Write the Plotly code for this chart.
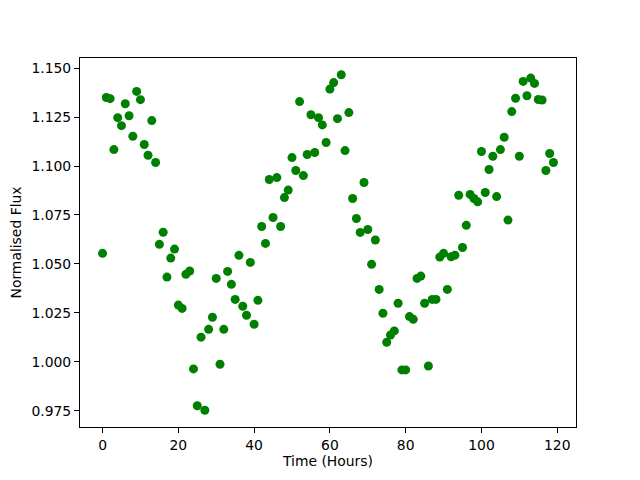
import plotly.graph_objects as go

hours = list(range(120))
flux = [
    1.0554, 1.1350, 1.1344, 1.1084, 1.1247, 1.1206, 1.1318, 1.1257, 1.1152, 1.1381,
    1.1339, 1.1110, 1.1055, 1.1232, 1.1018, 1.0600, 1.0662, 1.0433, 1.0530, 1.0576,
    1.0290, 1.0273, 1.0447, 1.0464, 0.9964, 0.9776, 1.0126, 0.9753, 1.0166, 1.0228,
    1.0426, 0.9988, 1.0166, 1.0462, 1.0396, 1.0319, 1.0544, 1.0284, 1.0238, 1.0508,
    1.0192, 1.0314, 1.0691, 1.0605, 1.0931, 1.0737, 1.0941, 1.0691, 1.0839, 1.0877,
    1.1043, 1.0977, 1.1329, 1.0951, 1.1059, 1.1262, 1.1069, 1.1247, 1.1210, 1.1120,
    1.1393, 1.1426, 1.1242, 1.1466, 1.1079, 1.1273, 1.0834, 1.0732, 1.0661, 1.0916,
    1.0676, 1.0498, 1.0622, 1.0370, 1.0248, 1.0100, 1.0137, 1.0158, 1.0299, 0.9959,
    0.9959, 1.0231, 1.0217, 1.0426, 1.0438, 1.0299, 0.9979, 1.0319, 1.0319, 1.0535,
    1.0554, 1.0370, 1.0537, 1.0545, 1.0851, 1.0584, 1.0697, 1.0855, 1.0834, 1.0817,
    1.1074, 1.0865, 1.0982, 1.1050, 1.0844, 1.1084, 1.1147, 1.0724, 1.1278, 1.1346,
    1.1050, 1.1432, 1.1359, 1.1449, 1.1422, 1.1340, 1.1337, 1.0977, 1.1064, 1.1018,
]
x_ticks = [0, 20, 40, 60, 80, 100, 120]
y_ticks = [0.975, 1.000, 1.025, 1.050, 1.075, 1.100, 1.125, 1.150]

FONT = "DejaVu Sans"

fig = go.Figure(
    go.Scatter(
        x=hours, y=flux, mode="markers",
        marker=dict(color="#008000", size=9, line=dict(width=0)),
        showlegend=False,
    )
)

xmin, xmax = min(hours), max(hours)
ymin, ymax = min(flux), max(flux)
xm = (xmax - xmin) * 0.05
ym = (ymax - ymin) * 0.05

axis_common = dict(
    showgrid=False, zeroline=False, showline=True, linecolor="black", linewidth=1,
    mirror=True, ticks="outside", ticklen=5, tickwidth=1, tickcolor="black",
    tickfont=dict(family=FONT, size=13.9, color="black"),
)

# page body has an 8px margin, so the figure is sized to fit the window
fig.update_layout(
    width=632, height=472,
    margin=dict(l=72, r=64, t=50, b=53, autoexpand=False),
    paper_bgcolor="white", plot_bgcolor="white",
    font=dict(family=FONT, size=13.9, color="black"),
    xaxis=dict(
        range=[xmin - xm, xmax + xm], tickvals=x_ticks,
        ticktext=[str(v) for v in x_ticks],
        title=dict(text="Time (Hours)", font=dict(family=FONT, size=13.9), standoff=4),
        automargin=False, **axis_common,
    ),
    yaxis=dict(
        range=[ymin - ym, ymax + ym], tickvals=y_ticks,
        ticktext=[f"{v:.3f}" for v in y_ticks],
        title=dict(text="Normalised Flux", font=dict(family=FONT, size=13.9), standoff=8),
        automargin=False, **axis_common,
    ),
)

fig.write_html("out.html")
